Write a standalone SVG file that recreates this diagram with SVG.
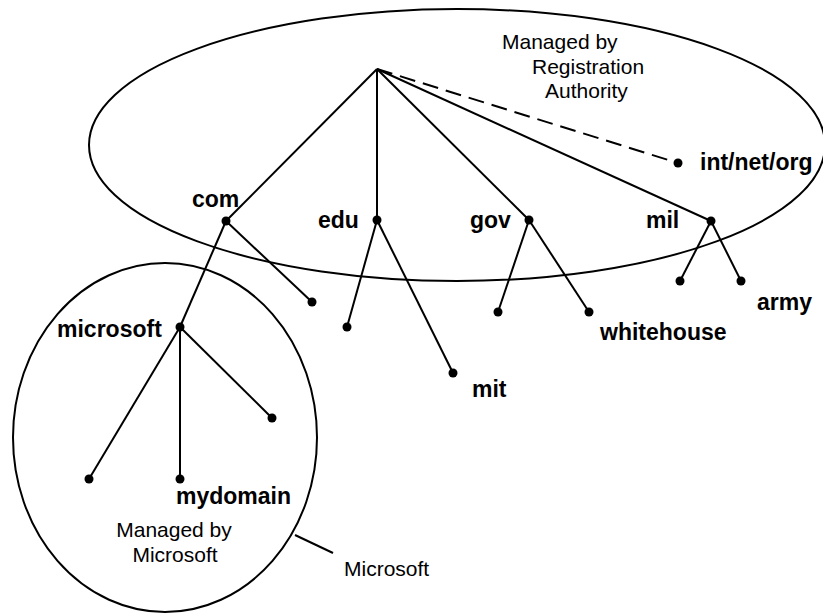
<svg xmlns="http://www.w3.org/2000/svg" width="823" height="613" viewBox="0 0 823 613">
<style>
.ln{stroke:#000;stroke-width:2;fill:none}
.dash{stroke-dasharray:16 8}
.dot{fill:#000}
.b{font-family:"Liberation Sans",Arial,sans-serif;font-weight:bold;font-size:23px;fill:#000}
.n{font-family:"Liberation Sans",Arial,sans-serif;font-size:21px;fill:#000}
</style>
<rect width="823" height="613" fill="#fff"/>
<g id="regions">
<ellipse class="ln" cx="457" cy="145" rx="368" ry="136"/>
<ellipse class="ln" cx="165" cy="437.5" rx="152" ry="174.5"/>
<line class="ln" x1="295" y1="535" x2="333" y2="553"/>
</g>
<g id="connectors">
<line class="ln" x1="377" y1="69" x2="226" y2="221"/>
<line class="ln" x1="377" y1="69" x2="377" y2="220"/>
<line class="ln" x1="377" y1="69" x2="529" y2="220"/>
<line class="ln" x1="377" y1="69" x2="711" y2="221"/>
<line class="ln dash" x1="377" y1="69" x2="678" y2="163"/>
<line class="ln" x1="226" y1="221" x2="312" y2="302"/>
<line class="ln" x1="226" y1="221" x2="180" y2="327"/>
<line class="ln" x1="377" y1="220" x2="347" y2="327"/>
<line class="ln" x1="377" y1="220" x2="453" y2="373"/>
<line class="ln" x1="529" y1="220" x2="498" y2="312"/>
<line class="ln" x1="529" y1="220" x2="589" y2="312"/>
<line class="ln" x1="711" y1="221" x2="680" y2="281"/>
<line class="ln" x1="711" y1="221" x2="741" y2="281"/>
<line class="ln" x1="180" y1="327" x2="89" y2="479"/>
<line class="ln" x1="180" y1="327" x2="180" y2="479"/>
<line class="ln" x1="180" y1="327" x2="272" y2="418"/>
</g>
<g id="node-intnetorg"><circle class="dot" cx="678" cy="163" r="4.5"/><text class="b" x="700" y="170">int/net/org</text></g>
<g id="node-com"><circle class="dot" cx="226" cy="221" r="4.5"/><text class="b" x="192" y="207">com</text></g>
<g id="node-edu"><circle class="dot" cx="377" cy="220" r="4.5"/><text class="b" x="318" y="228">edu</text></g>
<g id="node-gov"><circle class="dot" cx="529" cy="220" r="4.5"/><text class="b" x="470" y="228">gov</text></g>
<g id="node-mil"><circle class="dot" cx="711" cy="221" r="4.5"/><text class="b" x="646" y="228">mil</text></g>
<g id="node-com-child"><circle class="dot" cx="312" cy="302" r="4.5"/></g>
<g id="node-edu-child"><circle class="dot" cx="347" cy="327" r="4.5"/></g>
<g id="node-mit"><circle class="dot" cx="453" cy="373" r="4.5"/><text class="b" x="472" y="397">mit</text></g>
<g id="node-gov-child"><circle class="dot" cx="498" cy="312" r="4.5"/></g>
<g id="node-whitehouse"><circle class="dot" cx="589" cy="312" r="4.5"/><text class="b" x="600" y="340">whitehouse</text></g>
<g id="node-mil-child"><circle class="dot" cx="680" cy="281" r="4.5"/></g>
<g id="node-army"><circle class="dot" cx="741" cy="281" r="4.5"/><text class="b" x="757" y="310">army</text></g>
<g id="node-microsoft"><circle class="dot" cx="180" cy="327" r="4.5"/><text class="b" x="57" y="337">microsoft</text></g>
<g id="node-ms-child1"><circle class="dot" cx="89" cy="479" r="4.5"/></g>
<g id="node-mydomain"><circle class="dot" cx="180" cy="479" r="4.5"/><text class="b" x="176" y="504">mydomain</text></g>
<g id="node-ms-child2"><circle class="dot" cx="272" cy="418" r="4.5"/></g>
<g id="labels">
<text class="n" x="502" y="49">Managed by</text>
<text class="n" x="532" y="74">Registration</text>
<text class="n" x="545" y="98">Authority</text>
<text class="n" x="174" y="537" text-anchor="middle">Managed by</text>
<text class="n" x="175" y="562" text-anchor="middle">Microsoft</text>
<text class="n" x="344" y="576">Microsoft</text>
</g>
</svg>
